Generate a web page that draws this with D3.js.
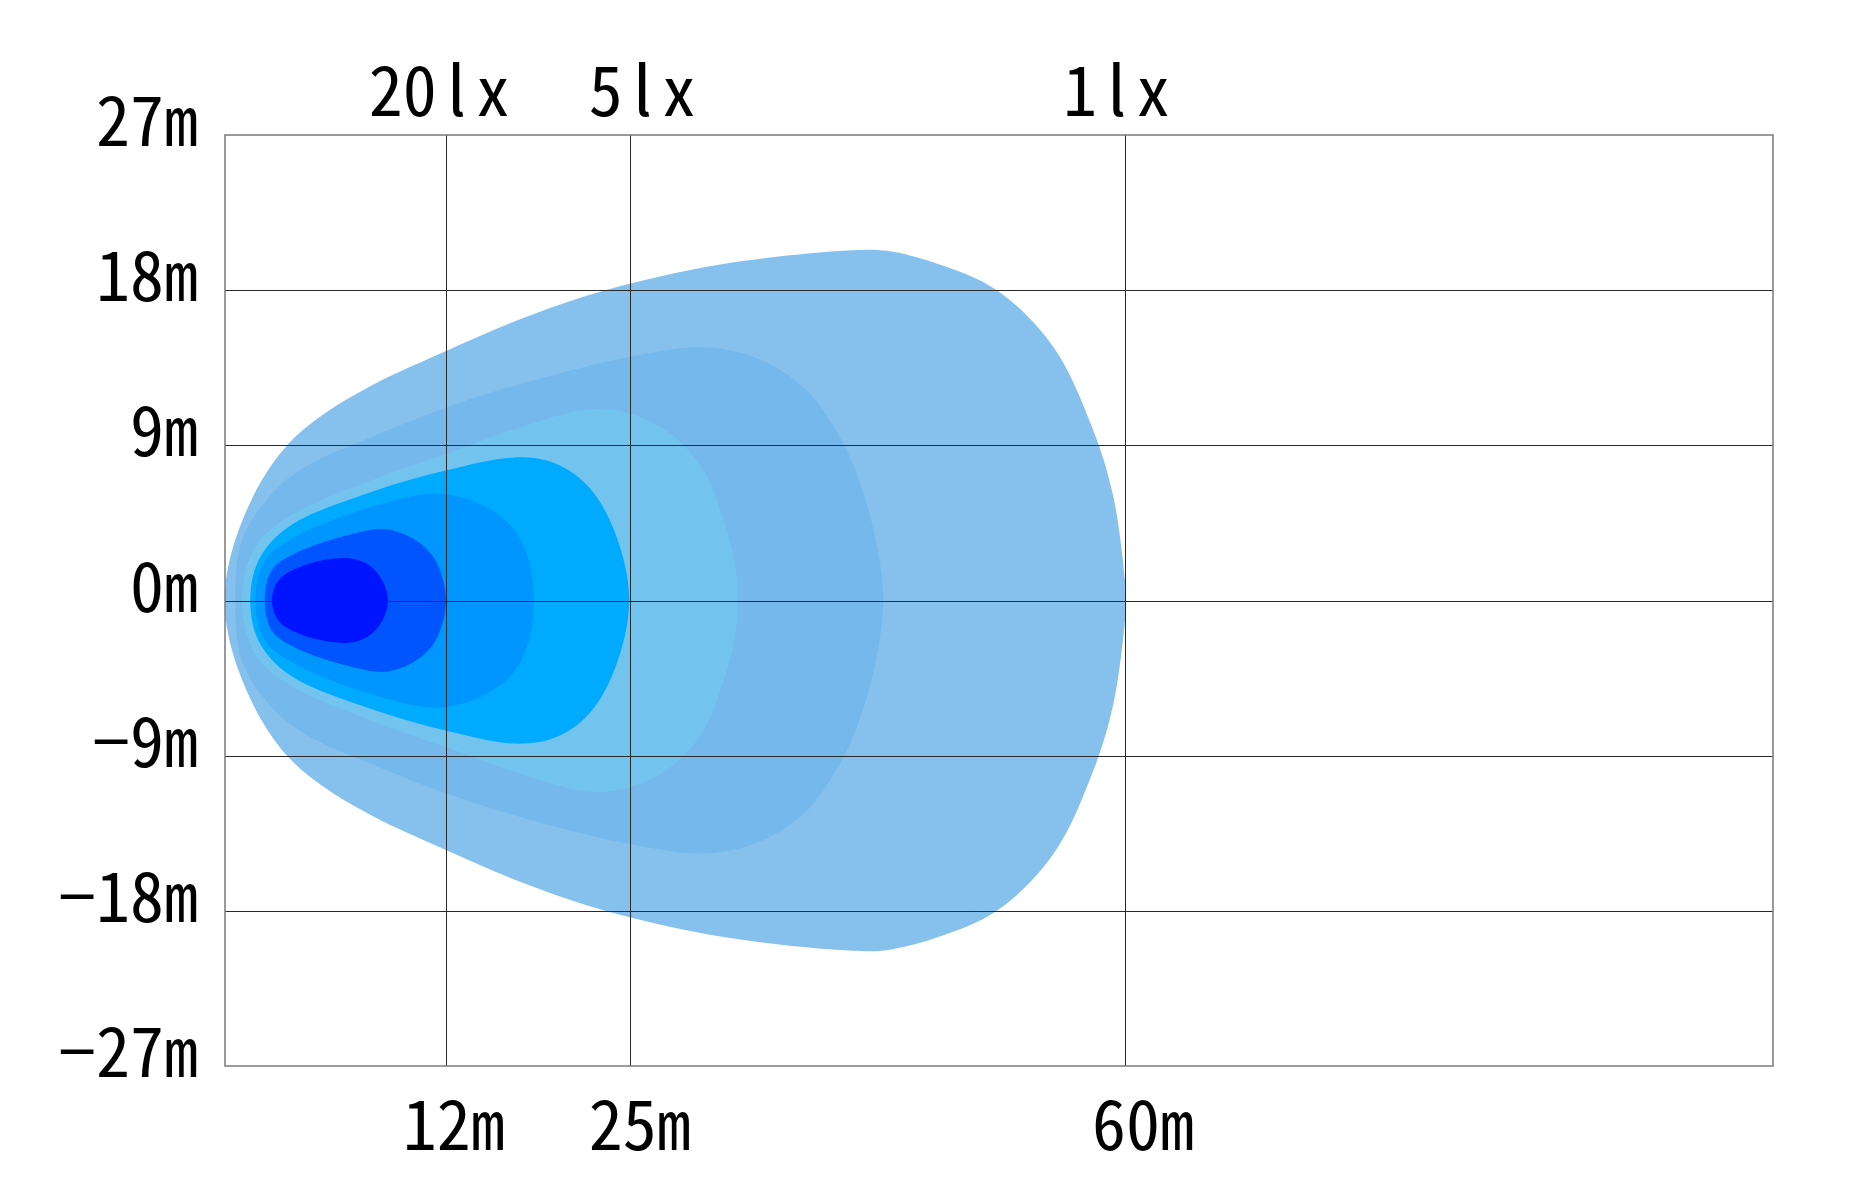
<!DOCTYPE html>
<html lang="en">
	<head>
		<meta charset="utf-8">
		<title>D3: Isolux beam pattern</title>
		<script type="text/javascript" src="https://cdn.jsdelivr.net/npm/d3@7"></script>
		<style type="text/css">
			body { margin: 0; background: #ffffff; }
			text { font-family: "Noto Sans Mono CJK SC", "DejaVu Sans Mono", monospace; font-size: 68px; fill: #000000; }
			.plain { font-family: "Noto Sans CJK SC", "Noto Sans", sans-serif; }
		</style>
	</head>
	<body>
		<script type="text/javascript">

			//Width and height
			var w = 1853;
			var h = 1200;

			//Tick values and labels
			var yTicks = [27, 18, 9, 0, -9, -18, -27];
			var yLabels = ["27m", "18m", "9m", "0m", "\u22129m", "\u221218m", "\u221227m"];
			var xTicks = [12, 25, 60];
			var distLabels = ["12m", "25m", "60m"];
			var luxValues = ["20", "5", "1"];

			//Isolux outlines, upper half only: [distance m, half width m], outer to inner
			var iso1 = [[-3.6, 0], [-3.46, 1.59], [-2.63, 4.09], [-0.99, 6.99], [0.9, 9.11], [3.26, 10.75], [6.79, 12.49],
				[12.14, 14.52], [17.39, 16.36], [23.28, 18.0], [31.52, 19.51], [40.81, 20.32], [43.16, 20.28],
				[46.7, 19.55], [50.94, 18.0], [54.94, 14.71], [57.76, 9.88], [59.18, 6.02], [60.0, 1.19], [60.07, 0]];
			var iso2 = [[-2.87, 0], [-2.4, 3.51], [-0.28, 6.21], [2.07, 7.76], [6.79, 9.5], [12.14, 11.23], [17.39, 12.59],
				[24.97, 14.13], [30.2, 14.68], [33.74, 14.13], [37.27, 12.39], [40.1, 9.11], [41.75, 5.63],
				[42.69, 2.16], [42.92, 0]];
			var iso3 = [[-2.4, 0], [-1.46, 3.12], [0.9, 4.86], [6.79, 6.99], [12.14, 8.53], [17.39, 10.08], [22.1, 11.08],
				[24.97, 10.85], [27.85, 9.69], [30.2, 7.57], [31.62, 4.67], [32.44, 2.16], [32.61, 0]];
			var iso4 = [[-1.81, 0], [-1.22, 2.35], [0.9, 4.28], [6.79, 6.31], [12.14, 7.57], [16.92, 8.3], [19.74, 7.95],
				[22.1, 6.6], [23.98, 3.9], [24.97, 0]];
			var iso5 = [[-1.46, 0], [-0.75, 2.35], [1.37, 3.7], [6.79, 5.44], [11.26, 6.21], [14.33, 5.63], [16.68, 4.28],
				[17.86, 2.35], [18.22, 0]];
			var iso6 = [[-0.79, 0], [-0.28, 1.77], [1.37, 2.74], [5.61, 3.9], [7.73, 4.13], [9.85, 3.51], [11.26, 2.35],
				[12.02, 0]];
			var iso7 = [[-0.28, 0], [0.2, 1.19], [2.07, 2.06], [5.14, 2.45], [6.56, 2.06], [7.5, 1.19], [7.92, 0]];

			var isoLines = [iso1, iso2, iso3, iso4, iso5, iso6, iso7];
			var isoColors = ["#85c1ec", "#75b9ec", "#72c4ee", "#00aaff", "#0096ff", "#0055ff", "#0014ff"];

			//Plot box
			var plotLeft = 225, plotRight = 1773, plotTop = 135, plotBottom = 1066;

			var x = d3.scaleLinear().domain([-3.6, 105.8]).range([plotLeft, plotRight]);
			var y = d3.scaleLinear().domain([-27, 27]).range([plotBottom, plotTop]);

			//Create SVG element
			var svg = d3.select("body")
						.append("svg")
						.attr("width", w)
						.attr("height", h);

			svg.append("clipPath")
			   .attr("id", "plot")
			   .append("rect")
			   .attr("x", plotLeft)
			   .attr("y", plotTop)
			   .attr("width", plotRight - plotLeft)
			   .attr("height", plotBottom - plotTop);

			//mirror the upper half to get the closed outline
			function outline(upper) {
				var lower = upper.slice(1, -1).reverse().map(function(d) { return [d[0], -d[1]]; });
				return upper.concat(lower);
			}

			var path = d3.line()
						 .x(function(d) { return x(d[0]); })
						 .y(function(d) { return y(d[1]); })
						 .curve(d3.curveCatmullRomClosed.alpha(0.5));

			svg.append("g")
			   .attr("clip-path", "url(#plot)")
			   .selectAll("path")
			   .data(isoLines)
			   .enter()
			   .append("path")
			   .attr("d", function(d) { return path(outline(d)); })
			   .style("fill", function(d, i) { return isoColors[i]; })
			   .style("stroke", "none");

			//Grid
			svg.append("g")
			   .selectAll("line")
			   .data(yTicks.slice(1, -1))
			   .enter()
			   .append("line")
			   .attr("x1", plotLeft)
			   .attr("x2", plotRight)
			   .attr("y1", function(d) { return Math.round(y(d)) + 0.5; })
			   .attr("y2", function(d) { return Math.round(y(d)) + 0.5; })
			   .style("stroke", "#2a2a2a")
			   .style("stroke-width", 1);

			svg.append("g")
			   .selectAll("line")
			   .data(xTicks)
			   .enter()
			   .append("line")
			   .attr("x1", function(d) { return Math.round(x(d)) + 0.5; })
			   .attr("x2", function(d) { return Math.round(x(d)) + 0.5; })
			   .attr("y1", plotTop)
			   .attr("y2", plotBottom)
			   .style("stroke", "#2a2a2a")
			   .style("stroke-width", 1);

			svg.append("rect")
			   .attr("x", plotLeft)
			   .attr("y", plotTop)
			   .attr("width", plotRight - plotLeft)
			   .attr("height", plotBottom - plotTop)
			   .style("fill", "none")
			   .style("stroke", "#7a7a7a")
			   .style("stroke-width", 1.5);

			//Labels
			svg.append("g")
			   .selectAll("text")
			   .data(yTicks)
			   .enter()
			   .append("text")
			   .attr("x", plotLeft - 27)
			   .attr("y", function(d) { return y(d) + 11; })
			   .attr("text-anchor", "end")
			   .text(function(d, i) { return yLabels[i]; });

			var topNudge = [-9, 10, -11];
			var bottomNudge = [8, 10, 18];

			//lux labels: plain bar "l" centred in its cell
			var lux = svg.append("g")
			   .selectAll("text")
			   .data(xTicks)
			   .enter()
			   .append("text")
			   .attr("x", function(d, i) { return x(d) + topNudge[i] - (luxValues[i].length + 2) * 17; })
			   .attr("y", 116);

			lux.append("tspan").text(function(d, i) { return luxValues[i]; });
			lux.append("tspan").attr("class", "plain").attr("dx", 10).text("l");
			lux.append("tspan").attr("dx", 10).text("x");

			svg.append("g")
			   .selectAll("text")
			   .data(xTicks)
			   .enter()
			   .append("text")
			   .attr("x", function(d, i) { return x(d) + bottomNudge[i]; })
			   .attr("y", 1150)
			   .attr("text-anchor", "middle")
			   .text(function(d, i) { return distLabels[i]; });

		</script>
	</body>
</html>
